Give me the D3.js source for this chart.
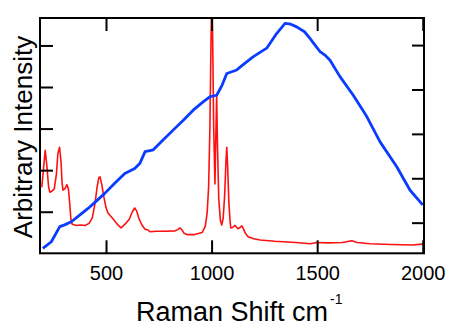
<!DOCTYPE html>
<html>
<head>
<meta charset="utf-8">
<script src="https://cdn.jsdelivr.net/npm/d3@7"></script>
<style>
  html, body { margin: 0; padding: 0; background: #fff; }
  svg text { font-family: "Liberation Sans", Arial, sans-serif; fill: #000; }
</style>
</head>
<body>
<svg id="chart" width="450" height="328"></svg>
<script>
// Red spectrum (left axis)
const redShift = [196,205,212,220,228,234,245,255,265,272,280,287,292,296,305,315,322,328,334,340,360,380,400,420,435,448,458,466,472,480,490,500,509,530,550,571,590,610,625,636,645,655,670,685,699,708,740,780,827,840,851,860,870,883,920,955,970,979,986,992,997,1001,1005,1010,1016,1020,1024,1028,1034,1042,1048,1055,1062,1068,1072,1076,1082,1088,1091,1100,1111,1125,1135,1143,1150,1160,1173,1200,1230,1300,1400,1467,1498,1550,1620,1664,1690,1750,1850,1950,2000];
const redIntensity = [1.59,2.1,2.48,2.1,1.6,1.47,1.5,1.55,1.9,2.4,2.55,2.2,1.7,1.52,1.55,1.65,1.55,1.2,0.8,0.7,0.67,0.68,0.67,0.72,0.85,1.2,1.6,1.82,1.84,1.65,1.35,1.1,0.97,0.85,0.72,0.61,0.7,0.82,1.0,1.09,1.02,0.85,0.68,0.58,0.56,0.52,0.53,0.53,0.54,0.57,0.61,0.56,0.48,0.45,0.45,0.5,0.65,0.97,1.6,3.0,5.0,6.3,5.2,3.0,1.67,2.8,3.8,2.6,1.3,0.78,0.68,0.85,1.4,2.2,2.55,2.1,1.2,0.75,0.61,0.62,0.67,0.59,0.62,0.66,0.6,0.48,0.4,0.35,0.32,0.29,0.26,0.23,0.26,0.25,0.26,0.3,0.26,0.23,0.21,0.2,0.22];

// Blue spectrum (right axis)
const blueShift = [201,241,281,304,336,375,415,455,494,540,589,636,661,685,724,770,819,865,914,960,993,1024,1050,1072,1119,1160,1198,1261,1308,1348,1375,1403,1440,1466,1490,1514,1540,1561,1608,1671,1735,1798,1877,1940,2000];
const blueIntensity = [0.42,0.57,0.91,0.95,1.02,1.17,1.32,1.49,1.66,1.88,2.11,2.22,2.34,2.6,2.64,2.86,3.09,3.3,3.54,3.72,3.84,3.87,4.1,4.36,4.44,4.6,4.74,4.93,5.26,5.49,5.47,5.41,5.3,5.15,5.0,4.85,4.76,4.66,4.29,3.87,3.39,2.82,2.26,1.73,1.4];

const xTicks = [500, 1000, 1500, 2000];
const yTicks = [1, 2, 3, 4, 5];

const svg = d3.select("#chart");
const L = 40, R = 424, T = 18, B = 253.3;

const x = d3.scaleLinear().domain([187.4, 2006]).range([L, R]);
const yL = d3.scaleLinear().domain([0, 5.66]).range([B, T]);
const yR = d3.scaleLinear().domain([0.31, 5.61]).range([B, T]);

svg.append("defs").append("clipPath").attr("id", "plotclip")
  .append("rect").attr("x", L).attr("y", T).attr("width", R - L).attr("height", B - T);

const g = svg.append("g").attr("clip-path", "url(#plotclip)");

const redPts = redShift.map((s, i) => [s, redIntensity[i]]);
const bluePts = blueShift.map((s, i) => [s, blueIntensity[i]]);

g.append("path").datum(redPts)
  .attr("fill", "none").attr("stroke", "#ff1010").attr("stroke-width", 1.6)
  .attr("stroke-linejoin", "round")
  .attr("d", d3.line().x(d => x(d[0])).y(d => yL(d[1])));

g.append("path").datum(bluePts)
  .attr("fill", "none").attr("stroke", "#0a3cff").attr("stroke-width", 2.8)
  .attr("stroke-linejoin", "round")
  .attr("d", d3.line().x(d => x(d[0])).y(d => yR(d[1])));

function styleAxis(sel) {
  sel.select(".domain").remove();
  sel.selectAll(".tick line").attr("stroke", "#000").attr("stroke-width", 2);
}

// bottom axis
svg.append("g").attr("transform", `translate(0,${B})`)
  .call(d3.axisBottom(x).tickValues(xTicks).tickSize(-13).tickPadding(27).tickFormat(d3.format("d")))
  .call(styleAxis)
  .call(s => s.selectAll("text").attr("font-size", 20).attr("dy", "0em"));

// top axis
svg.append("g").attr("transform", `translate(0,${T})`)
  .call(d3.axisTop(x).tickValues(xTicks).tickSize(-13).tickFormat(""))
  .call(styleAxis);

// left axis
svg.append("g").attr("transform", `translate(${L},0)`)
  .call(d3.axisLeft(yL).tickValues(yTicks).tickSize(-13).tickFormat(""))
  .call(styleAxis);

// right axis
svg.append("g").attr("transform", `translate(${R},0)`)
  .call(d3.axisRight(yR).tickValues(yTicks).tickSize(-12).tickFormat(""))
  .call(styleAxis);

// frame
svg.append("rect").attr("x", L).attr("y", T).attr("width", R - L).attr("height", B - T)
  .attr("fill", "none").attr("stroke", "#000").attr("stroke-width", 2);

// x title
const xt = svg.append("text").attr("x", 136).attr("y", 321).attr("font-size", 27);
xt.append("tspan").text("Raman Shift cm");
xt.append("tspan").attr("font-size", 14).attr("dy", -17).attr("dx", 2).text("-1");

// y title
svg.append("text")
  .attr("transform", "translate(32,137) rotate(-90)")
  .attr("text-anchor", "middle").attr("font-size", 26)
  .text("Arbitrary Intensity");
</script>
</body>
</html>
